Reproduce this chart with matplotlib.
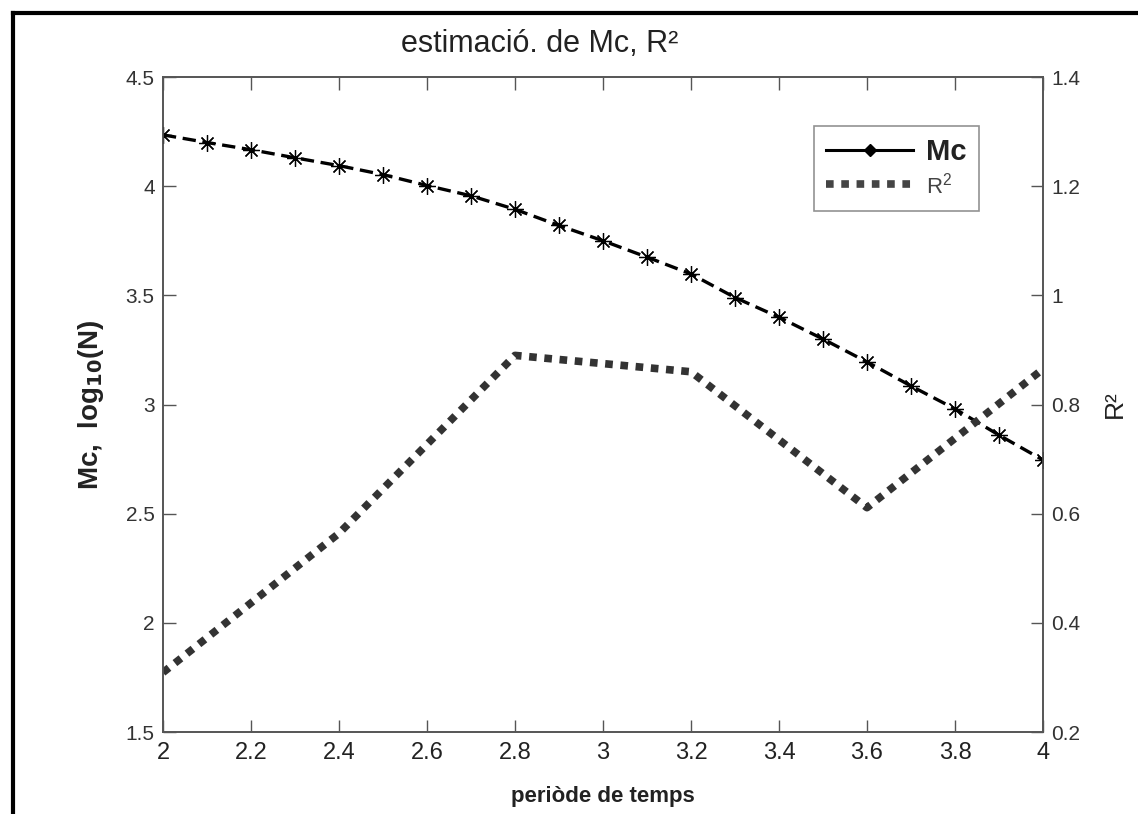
import matplotlib.pyplot as plt
from matplotlib.lines import Line2D

# dades llegides del gràfic
periode = [2.0, 2.1, 2.2, 2.3, 2.4, 2.5, 2.6, 2.7, 2.8, 2.9, 3.0,
           3.1, 3.2, 3.3, 3.4, 3.5, 3.6, 3.7, 3.8, 3.9, 4.0]
mc = [4.235, 4.20, 4.167, 4.13, 4.094, 4.053, 4.003, 3.956, 3.894, 3.82, 3.75,
      3.675, 3.598, 3.49, 3.40, 3.30, 3.195, 3.085, 2.98, 2.86, 2.746]

periode_r2 = [2.0, 2.4, 2.8, 3.0, 3.2, 3.6, 4.0]
r2 = [0.309, 0.564, 0.89, 0.875, 0.86, 0.611, 0.865]

xticks = [2, 2.2, 2.4, 2.6, 2.8, 3, 3.2, 3.4, 3.6, 3.8, 4]
yticks_l = [1.5, 2, 2.5, 3, 3.5, 4, 4.5]
yticks_r = [0.2, 0.4, 0.6, 0.8, 1, 1.2, 1.4]

plt.rcParams['font.family'] = ['Liberation Sans', 'DejaVu Sans']

fig = plt.figure(figsize=(11.38, 8.14), dpi=100)
ax1 = fig.add_axes([0.1432, 0.1007, 0.7733, 0.8047])
ax2 = ax1.twinx()

gris = '#555555'

# Mc
ax1.plot(periode, mc, color='black', linestyle=(0, (4, 2)), linewidth=2.4,
         marker=(8, 2, 0), markersize=12, markeredgewidth=0.9,
         markeredgecolor='black', zorder=3)

# R^2
ax2.plot(periode_r2, r2, color='#333333', linestyle=(0, (1, 1)),
         linewidth=5.5, dash_capstyle='butt', solid_joinstyle='miter')

ax1.set_xlim(2, 4)
ax1.set_ylim(1.5, 4.5)
ax2.set_ylim(0.2, 1.4)
ax1.set_xticks(xticks)
ax1.set_xticklabels(['2', '2.2', '2.4', '2.6', '2.8', '3', '3.2', '3.4',
                     '3.6', '3.8', '4'], fontsize=17)
ax1.set_yticks(yticks_l)
ax1.set_yticklabels(['1.5', '2', '2.5', '3', '3.5', '4', '4.5'])
ax2.set_yticks(yticks_r)
ax2.set_yticklabels(['0.2', '0.4', '0.6', '0.8', '1', '1.2', '1.4'])

ax1.tick_params(axis='x', direction='in', length=9, width=1, color=gris,
                top=True, pad=7, labelcolor='#222222')
ax1.tick_params(axis='y', direction='in', length=9, width=1, color=gris,
                labelsize=15, labelcolor='#333333', pad=6)
ax2.tick_params(axis='y', direction='in', length=9, width=1, color=gris,
                labelsize=15, labelcolor='#333333', pad=6)
for ax in (ax1, ax2):
    for s in ax.spines.values():
        s.set_color(gris)
        s.set_linewidth(1.2)

ax1.text(0.428, 1.05, 'estimació. de Mc, R²', transform=ax1.transAxes,
         ha='center', va='center', fontsize=22, color='#222222')
ax1.set_xlabel('periòde de temps', fontsize=16, fontweight='bold',
               labelpad=16, color='#222222')
ax1.set_ylabel(r'Mc,  log$_{\mathbf{10}}$(N)', fontsize=20, fontweight='bold',
               labelpad=14, color='#222222')
ax2.set_ylabel('R²', fontsize=19, labelpad=16, color='#222222')

# llegenda
h_mc = Line2D([], [], color='black', linewidth=2.2, marker='D', markersize=6)
h_r2 = Line2D([], [], color='#444444', linestyle=(0, (1, 1)), linewidth=5.5,
              dash_capstyle='butt')
leg = ax2.legend([h_mc, h_r2], ['Mc', '$\\mathregular{R^2}$'],
                 loc='upper left', bbox_to_anchor=(0.74, 0.925),
                 prop={'size': 21}, frameon=True, fancybox=False,
                 edgecolor='#777777', handlelength=3.0, handletextpad=0.45,
                 borderpad=0.4, labelspacing=0.25, borderaxespad=0)
leg.get_frame().set_linewidth(1.2)
t_mc, t_r2 = leg.get_texts()
t_mc.set_fontweight('bold')
t_mc.set_color('#222222')
t_r2.set_fontsize(16)
t_r2.set_color('#444444')

# marc negre de la figura
fig.add_artist(Line2D([0.0115, 1.0], [0.984, 0.984], color='black',
                      linewidth=3, transform=fig.transFigure))
fig.add_artist(Line2D([0.0115, 0.0115], [0.0, 0.984], color='black',
                      linewidth=3, transform=fig.transFigure))

fig.savefig('out.png', dpi=100)
